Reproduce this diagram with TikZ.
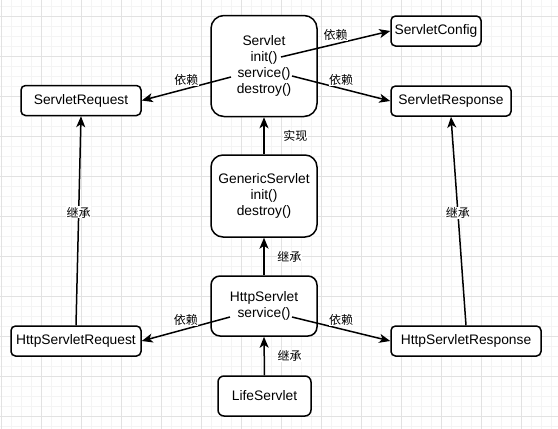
\documentclass[tikz,border=0pt]{standalone}
\usepackage{fontspec}
\setmainfont{Liberation Sans}
\newfontfamily\cjk{Noto Sans CJK SC}
\usetikzlibrary{arrows.meta}
\definecolor{grid-major}{HTML}{E2E2E2}
\definecolor{grid-minor}{HTML}{F4F4F4}

\begin{document}
\begin{tikzpicture}[x=1pt, y=-1pt,
      every node/.style={font=\fontsize{13.8}{16}\selectfont},
      cls/.style={draw, line width=1.5pt, fill=white, align=center, inner sep=0pt},
      dep/.style={line width=1.5pt, -{Stealth[length=11pt, width=9pt, inset=3pt]}},
      lbl/.style={font=\cjk\fontsize{12}{14}\selectfont, fill=white, inner sep=0.5pt}]
    \useasboundingbox (0,0) rectangle (558,429);
    % background grid
    \foreach \x in {1,11,...,551} { \draw[grid-minor, line width=1pt] (\x,0) -- (\x,429); }
    \foreach \y in {6,16,...,426} { \draw[grid-minor, line width=1pt] (0,\y) -- (558,\y); }
    \foreach \x in {1,41,...,521} { \draw[grid-major, line width=1pt] (\x,0) -- (\x,429); }
    \foreach \y in {16,56,...,416} { \draw[grid-major, line width=1pt] (0,\y) -- (558,\y); }

    \node[cls, rounded corners=13pt, minimum width=106pt, minimum height=101pt] (servlet) at (264,66)
      {Servlet\\init()\\service()\\destroy()};
    \node[cls, rounded corners=4.5pt, minimum width=90pt, minimum height=30pt] (config) at (436,31) {ServletConfig};
    \node[cls, rounded corners=4.5pt, minimum width=120pt, minimum height=30pt] (resp) at (451,101) {ServletResponse};
    \node[cls, rounded corners=4.5pt, minimum width=120pt, minimum height=30pt] (req) at (81,100.5) {ServletRequest};
    \node[cls, rounded corners=12pt, minimum width=106pt, minimum height=82pt] (generic) at (264,196)
      {GenericServlet\\init()\\destroy()};
    \node[cls, rounded corners=9pt, minimum width=106pt, minimum height=60pt] (http) at (264,306)
      {HttpServlet\\service()};
    \node[cls, rounded corners=6pt, minimum width=93pt, minimum height=40pt] (life) at (264.5,396) {LifeServlet};
    \node[cls, rounded corners=4.5pt, minimum width=130pt, minimum height=30pt] (hreq) at (76,341) {HttpServletRequest};
    \node[cls, rounded corners=4.5pt, minimum width=150pt, minimum height=30pt] (hresp) at (466,341) {HttpServletResponse};

    \coordinate (s-init) at (281,57);
    \coordinate (s-svc) at (292,76);
    \coordinate (s-left) at (231,77);
    \coordinate (h-left) at (230,317);
    \coordinate (h-right) at (292,317);

    \draw[dep] (s-init) -- node[lbl, pos=.5, above, yshift=2pt] {依赖} (config.west);
    \draw[dep] (s-svc) -- node[lbl, pos=.5, above, yshift=2pt] {依赖} (resp.west);
    \draw[dep] (s-left) -- node[lbl, pos=.5, above, yshift=2pt] {依赖} (req.east);
    \draw[dep] (generic.north) -- node[lbl, pos=.5, right, xshift=18pt] {实现} (servlet.south);
    \draw[dep] (http.north) -- node[lbl, pos=.5, right, xshift=12pt] {继承} (generic.south);
    \draw[dep] (life.north) -- node[lbl, pos=.5, right, xshift=12pt] {继承} (http.south);
    \draw[dep] (h-left) -- node[lbl, pos=.5, above, yshift=2pt] {依赖} (hreq.east);
    \draw[dep] (h-right) -- node[lbl, pos=.5, above, yshift=2pt] {依赖} (hresp.west);
    \draw[dep] (hreq.north) -- node[lbl, pos=.54] {继承} (req.south);
    \draw[dep] (hresp.north) -- node[lbl, pos=.54] {继承} (resp.south);
  \end{tikzpicture}
\end{document}
